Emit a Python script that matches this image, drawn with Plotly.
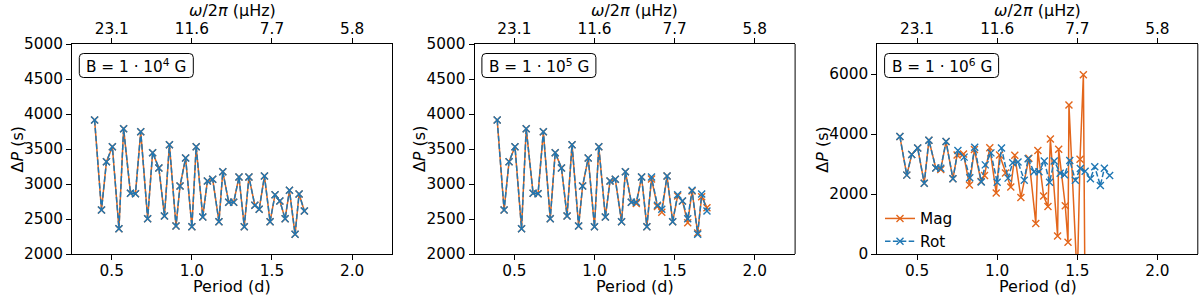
import plotly.graph_objects as go

# ---------------- data ----------------
rot_period = [0.393, 0.436, 0.467, 0.504, 0.545, 0.574, 0.617, 0.648, 0.681, 0.724,
              0.755, 0.794, 0.829, 0.860, 0.901, 0.926, 0.961, 1.000, 1.027, 1.068,
              1.097, 1.130, 1.169, 1.193, 1.230, 1.261, 1.294, 1.327, 1.356, 1.393,
              1.420, 1.453, 1.488, 1.519, 1.549, 1.582, 1.609, 1.644, 1.669, 1.702]
rot_dp = [3914, 2629, 3319, 3533, 2362, 3790, 2867, 2862, 3748, 2505,
          3448, 3229, 2543, 3562, 2400, 2971, 3371, 2390, 3533, 2529,
          3043, 3067, 2462, 3176, 2738, 2738, 3100, 2390, 3100, 2695,
          2638, 3114, 2462, 2848, 2757, 2505, 2910, 2281, 2857, 2614]

# B = 1e4 G : magnetic periods identical to rotation
mag1_period = list(rot_period)
mag1_dp = list(rot_dp)

# B = 1e5 G : small deviations towards long periods
mag2_period = list(rot_period)
mag2_dp = [3914, 2629, 3319, 3533, 2362, 3790, 2867, 2862, 3748, 2505,
           3448, 3229, 2543, 3562, 2400, 2971, 3371, 2390, 3533, 2529,
           3043, 3067, 2462, 3176, 2738, 2720, 3100, 2390, 3070, 2680,
           2595, 3114, 2462, 2830, 2757, 2448, 2900, 2300, 2819, 2662]

# B = 1e6 G
mag3_period = [0.393, 0.436, 0.467, 0.504, 0.545, 0.574, 0.617, 0.648, 0.681, 0.724,
               0.750, 0.790, 0.827, 0.858, 0.899, 0.921, 0.954, 0.994, 1.015, 1.052,
               1.085, 1.110, 1.148, 1.198, 1.241, 1.254, 1.290, 1.317, 1.332, 1.377,
               1.384, 1.425, 1.442, 1.448, 1.500, 1.517, 1.538, 1.560]
mag3_dp = [3914, 2629, 3319, 3533, 2362, 3790, 2867, 2820, 3748, 2505,
           3300, 3330, 2300, 3480, 2420, 2620, 3540, 2030, 3300, 2700,
           2230, 3290, 1880, 3190, 1020, 3450, 1930, 1580, 3830, 600,
           3490, 1610, 390, 4967, -900, 3160, 5975, -10000]

field_labels = ["B = 1 · 10<sup>4</sup> G", "B = 1 · 10<sup>5</sup> G", "B = 1 · 10<sup>6</sup> G"]
top_tickvals = [0.5, 1.0, 1.5, 2.0]
top_ticktext = ["23.1", "11.6", "7.7", "5.8"]
y_ranges = [[2000, 5000], [2000, 5000], [0, 7000]]
y_dticks = [500, 500, 2000]

# ---------------- layout geometry ----------------
W, H = 1200, 302
ORANGE = "#e3661b"
BLUE = "#1f77b4"
FONT = "DejaVu Sans"
FS = 15.3
FT = 16

panel_left = [72, 474.6, 877.3]
panel_w = 320.5
top_px, bot_px = 44, 254


def px2x(p):
    return p / W


def px2y(p):
    return 1 - p / H


fig = go.Figure()
mags = [(mag1_period, mag1_dp), (mag2_period, mag2_dp), (mag3_period, mag3_dp)]

for i in range(3):
    xa = "x" if i == 0 else f"x{i+1}"
    ya = "y" if i == 0 else f"y{i+1}"
    mp, md = mags[i]
    fig.add_trace(go.Scatter(
        x=mp, y=md, xaxis=xa, yaxis=ya, name="Mag", mode="lines+markers",
        line=dict(color=ORANGE, width=1.5),
        marker=dict(symbol="x-thin", size=7, line=dict(color=ORANGE, width=1.4)),
        showlegend=(i == 2), cliponaxis=True))
    fig.add_trace(go.Scatter(
        x=rot_period, y=rot_dp, xaxis=xa, yaxis=ya, name="Rot", mode="lines+markers",
        line=dict(color=BLUE, width=1.5, dash="5.5px,2.4px"),
        marker=dict(symbol="x-thin", size=7, line=dict(color=BLUE, width=1.4)),
        showlegend=(i == 2), cliponaxis=True))
    # dummy trace for the top (frequency) axis
    fig.add_trace(go.Scatter(x=[0.5], y=[None], xaxis=f"x{i+4}", yaxis=ya,
                             mode="markers", showlegend=False, hoverinfo="skip"))

layout = dict(
    width=W, height=H,
    margin=dict(l=0, r=0, t=0, b=0, autoexpand=False),
    paper_bgcolor="white", plot_bgcolor="white",
    font=dict(family=FONT, size=FS, color="black"),
    showlegend=True,
    legend=dict(x=px2x(880), y=px2y(202), xanchor="left", yanchor="top",
                bgcolor="rgba(0,0,0,0)", font=dict(size=FS), itemwidth=30,
                tracegroupgap=0),
)

axis_common = dict(showline=True, linecolor="black", linewidth=1, ticks="outside",
                   ticklen=5, tickwidth=1, tickcolor="black", showgrid=False,
                   zeroline=False, automargin=False,
                   tickfont=dict(size=FS, family=FONT))

shapes = []
annotations = []


def label(text, xp, yp, angle=0):
    annotations.append(dict(text=text, xref="paper", yref="paper",
                            x=px2x(xp), y=px2y(yp), xanchor="center", yanchor="middle",
                            showarrow=False, textangle=angle,
                            font=dict(size=FT, family=FONT, color="black")))


for i in range(3):
    sfx = "" if i == 0 else str(i + 1)
    x0 = px2x(panel_left[i])
    x1 = px2x(panel_left[i] + panel_w)
    cx = panel_left[i] + panel_w / 2
    layout[f"xaxis{sfx}"] = dict(
        axis_common, domain=[x0, x1], range=[0.252, 2.252], anchor=f"y{sfx}",
        tickvals=[0.5, 1.0, 1.5, 2.0], ticktext=["0.5", "1.0", "1.5", "2.0"],
        mirror=False, ticklabelstandoff=-2)
    layout[f"xaxis{i+4}"] = dict(
        axis_common, overlaying=f"x{sfx}", side="top", anchor=f"y{sfx}",
        range=[0.252, 2.252], tickvals=top_tickvals, ticktext=top_ticktext,
        ticklabelstandoff=-2)
    layout[f"yaxis{sfx}"] = dict(
        axis_common, domain=[px2y(bot_px), px2y(top_px)], range=y_ranges[i],
        dtick=y_dticks[i], tick0=0, anchor=f"x{sfx}", mirror=False)
    # axis titles
    label("Period (d)", cx, 286.5)
    label("<i>ω</i>/2<i>π</i> (μHz)", cx, 11.0)
    label("Δ<i>P</i> (s)", panel_left[i] - 55.5, 149, angle=-90)
    # right spine
    shapes.append(dict(type="line", xref="paper", yref="paper",
                       x0=x1, x1=x1, y0=px2y(bot_px), y1=px2y(top_px),
                       line=dict(color="black", width=1)))
    # rounded label box
    bx0 = panel_left[i] + 7.3
    bx1 = bx0 + 114
    by0, by1 = 53.5, 77.5
    r = 4
    pts = [
        f"M {px2x(bx0 + r)},{px2y(by0)}",
        f"L {px2x(bx1 - r)},{px2y(by0)}",
        f"Q {px2x(bx1)},{px2y(by0)} {px2x(bx1)},{px2y(by0 + r)}",
        f"L {px2x(bx1)},{px2y(by1 - r)}",
        f"Q {px2x(bx1)},{px2y(by1)} {px2x(bx1 - r)},{px2y(by1)}",
        f"L {px2x(bx0 + r)},{px2y(by1)}",
        f"Q {px2x(bx0)},{px2y(by1)} {px2x(bx0)},{px2y(by1 - r)}",
        f"L {px2x(bx0)},{px2y(by0 + r)}",
        f"Q {px2x(bx0)},{px2y(by0)} {px2x(bx0 + r)},{px2y(by0)} Z",
    ]
    shapes.append(dict(type="path", xref="paper", yref="paper", path=" ".join(pts),
                       line=dict(color="black", width=1), fillcolor="white", layer="above"))
    annotations.append(dict(text=field_labels[i], xref="paper", yref="paper",
                            x=px2x((bx0 + bx1) / 2), y=px2y((by0 + by1) / 2),
                            xanchor="center", yanchor="middle", showarrow=False,
                            font=dict(size=FS, family=FONT, color="black")))

layout["shapes"] = shapes
layout["annotations"] = annotations
fig.update_layout(**layout)
fig.write_html("out.html", config={"displayModeBar": False},
               post_script="document.body.style.margin='0px';document.body.style.overflow='hidden';")
